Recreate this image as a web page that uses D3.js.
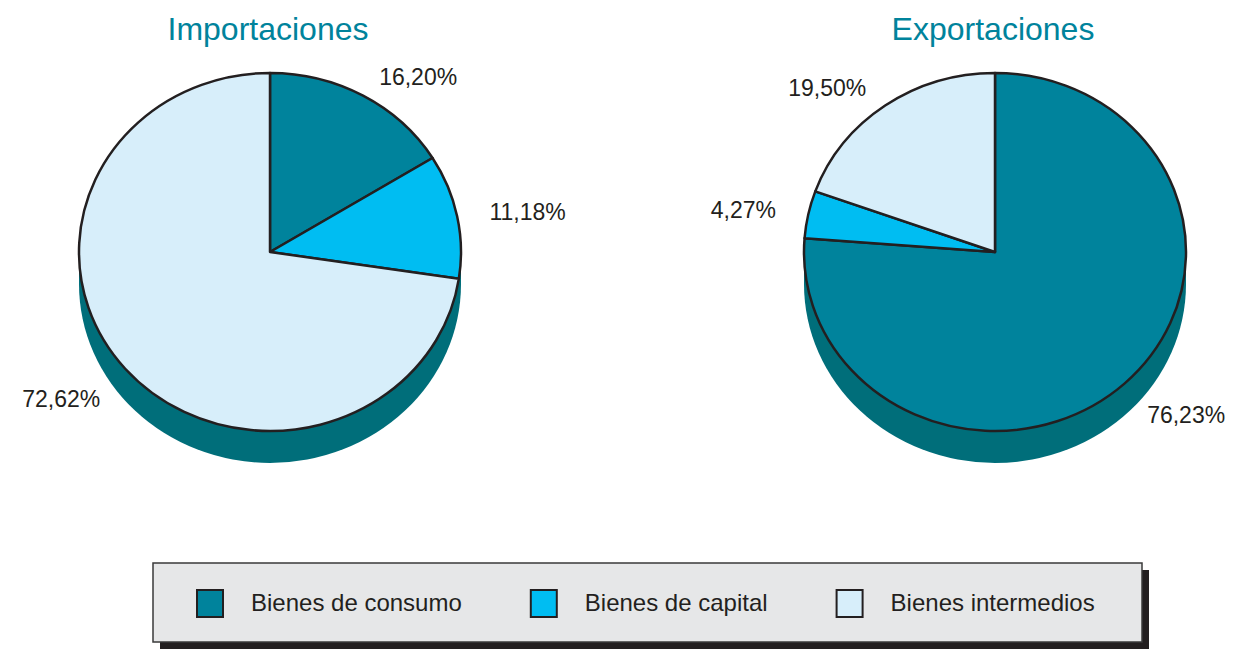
<!DOCTYPE html>
<html>
<head>
    <meta charset="utf-8">
    <title>Importaciones y Exportaciones</title>
    <style>
        body { margin: 0; background: #fff; }
        svg { display: block; font-family: "Liberation Sans", Arial, sans-serif; }
    </style>
</head>
<body>
    <div id="chart"></div>

    <script src="https://d3js.org/d3.v7.min.js"></script>
    <script>
        var categories = ["Bienes de consumo", "Bienes de capital", "Bienes intermedios"];
        var titles = ["Importaciones", "Exportaciones"];
        var importValues = [16.20, 11.18, 72.62];
        var exportValues = [76.23, 4.27, 19.50];
        var series = [importValues, exportValues];

        var width = 1247, height = 649;
        var rx = 191, ry = 179, depth = 32, cy = 252;

        var color = d3.scaleOrdinal()
            .domain(categories)
            .range(["#00839c", "#00bdf2", "#d7eefa"]);
        var sideColor = "#006e7a";
        var stroke = "#231f20";

        var centerX = d3.scalePoint()
            .domain(titles)
            .range([270, 995]);

        var fmt = d3.formatLocale({decimal: ",", thousands: "."}).format(".2f");

        var svg = d3.select("#chart")
            .append("svg")
            .attr("width", width)
            .attr("height", height);

        var pie = d3.pie().sort(null).value(d => d.value);
        var arc = d3.arc().innerRadius(0).outerRadius(rx);

        titles.forEach(function(title, k) {
            var cx = centerX(title);
            var data = categories.map((c, i) => ({cat: c, value: series[k][i]}));
            var g = svg.append("g").attr("transform", "translate(" + cx + "," + cy + ")");

            g.append("text")
                .attr("x", -2)
                .attr("y", 40 - cy)
                .attr("text-anchor", "middle")
                .style("font-size", "32px")
                .style("fill", "#00839c")
                .text(title);

            // side of the cylinder
            g.append("ellipse")
                .attr("cx", 0).attr("cy", depth)
                .attr("rx", rx).attr("ry", ry)
                .attr("fill", sideColor);
            g.append("rect")
                .attr("x", -rx).attr("y", 0)
                .attr("width", 2 * rx).attr("height", depth)
                .attr("fill", sideColor);

            // top face
            var top = g.append("g").attr("transform", "scale(1," + (ry / rx) + ")");
            top.selectAll("path")
                .data(pie(data))
                .enter()
                .append("path")
                .attr("d", arc)
                .attr("fill", d => color(d.data.cat))
                .attr("stroke", stroke)
                .attr("stroke-width", 2.5)
                .attr("stroke-linejoin", "round")
                .attr("vector-effect", "non-scaling-stroke");

            // labels outside slices (pushed down a bit under the rim)
            g.selectAll(".lbl")
                .data(pie(data))
                .enter()
                .append("text")
                .attr("class", "lbl")
                .each(function(d) {
                    var a = (d.startAngle + d.endAngle) / 2;
                    var x = 224 * Math.sin(a);
                    var y = -200 * Math.cos(a);
                    if (Math.cos(a) < 0) y += 16;
                    d3.select(this)
                        .attr("x", x)
                        .attr("y", y)
                        .attr("dy", "0.35em")
                        .attr("text-anchor", x > 0 ? "start" : "end");
                })
                .style("font-size", "23px")
                .style("fill", "#231f20")
                .text(d => fmt(d.data.value) + "%");
        });

        // legend
        var legend = svg.append("g").attr("transform", "translate(153,563)");
        legend.append("rect")
            .attr("x", 7).attr("y", 7)
            .attr("width", 989).attr("height", 79)
            .attr("fill", "#231f20");
        legend.append("rect")
            .attr("x", 0).attr("y", 0)
            .attr("width", 989).attr("height", 79)
            .attr("fill", "#e6e7e8")
            .attr("stroke", "#3a3a3a")
            .attr("stroke-width", 1.5);

        var items = legend.selectAll(".item")
            .data(categories)
            .enter()
            .append("g")
            .attr("class", "item");

        items.append("rect")
            .attr("x", 0).attr("y", 27)
            .attr("width", 26).attr("height", 27)
            .attr("fill", d => color(d))
            .attr("stroke", stroke)
            .attr("stroke-width", 2);

        items.append("text")
            .attr("x", 54).attr("y", 48)
            .style("font-size", "24px")
            .style("fill", "#231f20")
            .text(d => d);

        // lay items out one after another, based on text width
        var pos = 44;
        items.each(function() {
            var item = d3.select(this);
            item.attr("transform", "translate(" + pos + ",0)");
            pos += 54 + item.select("text").node().getComputedTextLength() + 69;
        });
    </script>
</body>
</html>
